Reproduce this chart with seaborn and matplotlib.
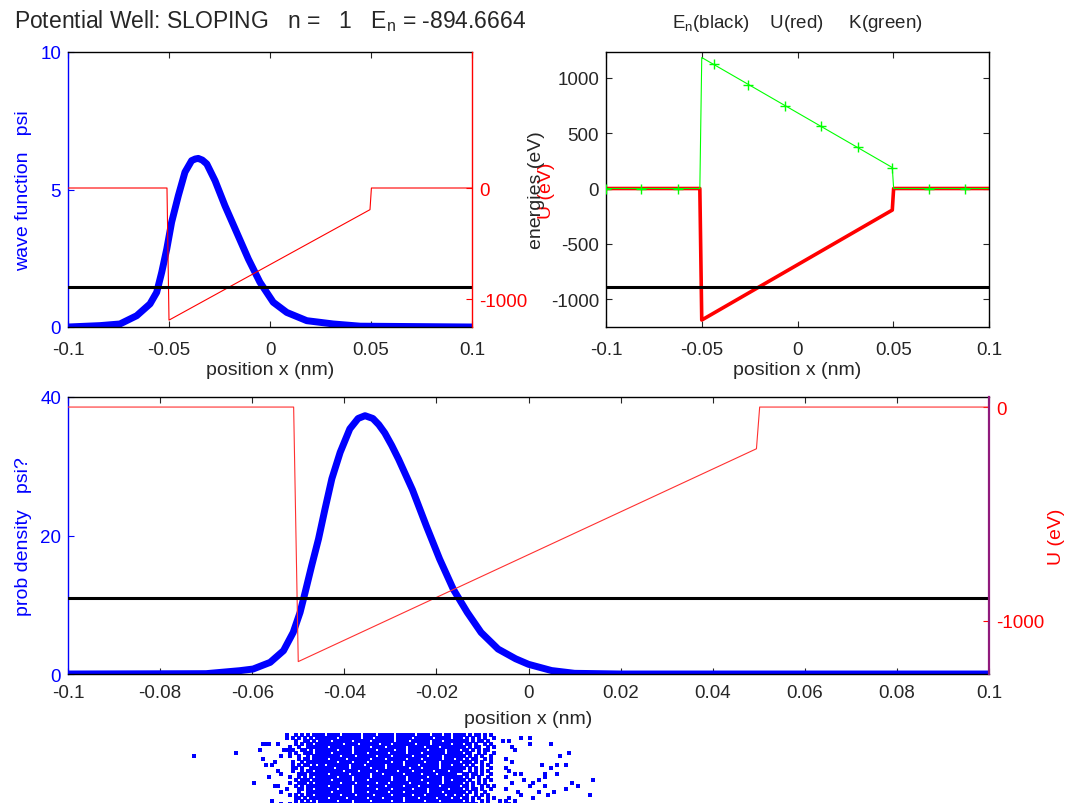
import matplotlib
matplotlib.use("Agg")
import matplotlib.pyplot as plt
import seaborn as sns

# Estilo tipo MATLAB
sns.set_style("white")
plt.rcParams["font.family"] = ["Liberation Sans", "DejaVu Sans"]
plt.rcParams["xtick.direction"] = "in"
plt.rcParams["ytick.direction"] = "in"
plt.rcParams["axes.unicode_minus"] = False

# ---- dados ----
E_N = -894.6664
N_STATE = 1

# funcao de onda psi (painel superior esquerdo)
psi_x = [-0.1, -0.0842, -0.0743, -0.066, -0.0594, -0.0561, -0.0536, -0.0511, -0.0487,
         -0.0454, -0.0421, -0.0388, -0.037, -0.0355, -0.0335, -0.0313, -0.0272,
         -0.0223, -0.0165, -0.0107, -0.005, 0.0016, 0.0083, 0.0182, 0.0313, 0.0446, 0.1]
psi = [0.0, 0.05, 0.11, 0.41, 0.84, 1.26, 1.99, 2.84, 3.81,
       4.77, 5.63, 6.05, 6.11, 6.13, 6.07, 5.93, 5.32,
       4.41, 3.44, 2.47, 1.63, 0.90, 0.53, 0.23, 0.11, 0.03, 0.0]

# densidade de probabilidade (painel inferior)
prob_x = [-0.1, -0.07, -0.0627, -0.0598, -0.0561, -0.0532, -0.0511, -0.0496, -0.0485,
          -0.0471, -0.0456, -0.0442, -0.0427, -0.0409, -0.0388, -0.037, -0.0355,
          -0.0338, -0.0325, -0.0312, -0.0297, -0.0282, -0.0252, -0.0222, -0.0193,
          -0.0163, -0.0133, -0.0103, -0.0066, -0.0028, 0.0, 0.005, 0.01, 0.02, 0.1]
prob = [0.0, 0.05, 0.48, 0.72, 1.68, 3.37, 6.0, 8.9, 11.8,
        15.6, 19.5, 23.8, 28.2, 32.0, 35.4, 36.9, 37.3,
        36.9, 36.0, 34.8, 33.0, 31.0, 26.6, 21.4, 16.6,
        12.2, 8.9, 6.0, 3.6, 2.2, 1.4, 0.5, 0.1, 0.0, 0.0]

# potencial U e energia cinetica K
u_x = [-0.1, -0.051, -0.05, 0.0495, 0.0502, 0.1]
u = [0, 0, -1190, -195, 0, 0]
k_x = [-0.1, -0.051, -0.05, 0.0495, 0.0502, 0.1]
k = [0, 0, 1185, 190, 0, 0]
k_mark_x = [-0.1, -0.0815, -0.0624, -0.0434, -0.0259, -0.0063, 0.0125, 0.0314,
            0.0494, 0.0686, 0.0876]
k_mark = [0, 0, 0, 1123, 934, 747, 566, 376, 190, 0, 0]

x_ticks_top = [-0.1, -0.05, 0, 0.05, 0.1]
x_labels_top = ["-0.1", "-0.05", "0", "0.05", "0.1"]
x_ticks_bot = [-0.1, -0.08, -0.06, -0.04, -0.02, 0, 0.02, 0.04, 0.06, 0.08, 0.1]
x_labels_bot = ["-0.1", "-0.08", "-0.06", "-0.04", "-0.02", "0",
                "0.02", "0.04", "0.06", "0.08", "0.1"]

# nuvem de pontos (amostragem da densidade), grade de celulas de 3 px
DOT_X0 = -0.0732
DOT_DX = 0.000651
SEG_W = [21, 23, 46, 15, 32]
DOT_ROWS = [
    "|...........#..#.#.#.###|#.####.######.####.#####.######.####.###.##.##|##.#.##.#.#....|",
    "|...........#.#.#.#.#.##|#####.#######.###.######.#####.######.#####.##|#.#.#.#.#..#...|.....#..#",
    "|..............#..##.#.#|###.######.#####.#######.####.######.###.#####|###.#.##.#....#|.#",
    "|...###..#.....#.#.##.##|#######.####.######.###.#######.####.######.##|#.##.#..#.#....|........#......#",
    "|............#..#..#####|##.#######.#####.####.######.#####.####.######|##.#.##..#.#...|..#",
    "|..#.......####..##.#.##|#####.####.#######.#####.###.######.#####.####|.##.#.#.##.....|...#",
    "...............#|............#.#..###.##|###.######.####.######.#####.####.#######.####|#.##..#.#..#...|.....................#",
    ".#|.........#..#..#..#.###|######.####.######.####.######.####.####.#####|##.#.#.#..#....|..................#",
    "|...#...........#.##.###|##.#####.#######.####.######.####.######.###.#|#.#.##..#.#....|#",
    "|.......#.....#..#.#####|#####.####.####.#######.###.######.####.######|.###.#.#..#....|..#",
    "|....#.#......#.#.##.#.#|#.#######.####.######.#####.####.######.###.##|#.#.#..#.#.....|............#....#..#",
    "|.............##.#..####|####.####.######.####.#######.###.#####.######|##.#.#.#..#....|#..............#",
    "|........#....#..#.##.##|#######.####.#####.######.####.######.####.###|#..#.#.#.#.....|.#",
    "|.........#.....###.####|##.######.######.###.######.#####.####.######.|.##.##.#..#....|...#.#.......#...#",
    "|.....#......#..#.#.#.##|#####.####.#####.######.####.######.####.#####|#.#.#.#..#.....|#............#",
    "|..............#.###.###|###.######.####.#######.####.####.######.##.##|##.#..#.#.#....|......#....#.................#",
    "|#...........#..###.#.##|######.####.######.###.######.#####.####.#####|#.#.#.#.#......|..#......#............#",
    "|.......##.....#.#.#####|##.#######.####.#####.#####.####.######.######|.##.#..#.#.#...|........#....#..........#",
    "|...........#...##.##.##|#####.####.#######.####.######.####.######.###|#.#.##.#..#....|#...................#",
    "|.........#.....#..#####|###.######.####.######.####.#######.####.#####|##.#.#..#......|....#......#....#",
    "|............#.#.#.##.##|######.####.#####.#####.######.###.######.##.#|#.#..#.#.#.....|.....#........#.............#",
    "|..............##.#.####|##.#####.######.####.######.####.#####.####.##|.##.#.#..#.#...|.#.......#",
    "|......#.......#.#.#.#.#|#####.####.#####.######.###.######.####.######|#.#.#..#.#...#.|#..#",
    "|......#..#..#.#..#.##.#|###.######.####.#####.######.####.######.###.#|##.#.#.#.......|.#.#",
]

BLUE = "#0000ff"
RED = "#ff0000"
GREEN = "#00ff00"
W, H = 1069, 804
TICK_FS = 13.5
LABEL_FS = 14

fig = plt.figure(figsize=(W / 100, H / 100), dpi=100)


def estilo(ax, xpad=5):
    ax.tick_params(axis="both", direction="in", length=4, width=0.8,
                   labelsize=TICK_FS, pad=5)
    ax.tick_params(axis="x", pad=xpad)
    for s in ax.spines.values():
        s.set_linewidth(1.0)
        s.set_color("black")


# ---------- painel superior esquerdo ----------
ax1 = fig.add_axes([68 / W, 1 - 328 / H, 404 / W, 275 / H])
estilo(ax1, xpad=10)
sns.lineplot(x=psi_x, y=psi, ax=ax1, color=BLUE, lw=5, sort=False,
             estimator=None, solid_capstyle="round")
ax1.set_xlim(-0.1, 0.1)
ax1.set_ylim(0, 10)
ax1.set_xticks(x_ticks_top, x_labels_top)
ax1.set_yticks([0, 5, 10], ["0", "5", "10"])
ax1.tick_params(axis="x", top=True, bottom=True)
ax1.tick_params(axis="y", colors=BLUE, left=True)
ax1.spines["left"].set_color(BLUE)
ax1.spines["right"].set_visible(False)
ax1.set_xlabel("position x (nm)", fontsize=LABEL_FS, labelpad=2)
ax1.set_ylabel("wave function   psi", fontsize=LABEL_FS, color=BLUE, labelpad=6)
ax1.set_title("Potential Well: SLOPING   n =   %d   $\\mathregular{E_n}$ = %.4f" % (N_STATE, E_N),
              fontsize=16.5, pad=18)

ax1r = ax1.twinx()
estilo(ax1r)
sns.lineplot(x=u_x, y=u, ax=ax1r, color=RED, lw=0.8, sort=False, estimator=None)
ax1r.axhline(E_N, color="black", lw=2.2)
ax1r.set_ylim(-1252, 1225)
ax1r.set_yticks([-1000, 0], ["-1000", "0"])
ax1r.tick_params(axis="y", colors=RED, right=True)
ax1r.spines["right"].set_color(RED)
for s in ["left", "top", "bottom"]:
    ax1r.spines[s].set_visible(False)
ax1r.set_ylabel("U (eV)", fontsize=LABEL_FS, color=RED, labelpad=8)

# ---------- painel superior direito ----------
ax2 = fig.add_axes([606 / W, 1 - 328 / H, 383 / W, 275 / H])
estilo(ax2, xpad=10)
sns.lineplot(x=u_x, y=u, ax=ax2, color=RED, lw=2.6, sort=False, estimator=None)
sns.lineplot(x=k_x, y=k, ax=ax2, color=GREEN, lw=0.8, sort=False, estimator=None)
sns.scatterplot(x=k_mark_x, y=k_mark, ax=ax2, color=GREEN, marker="+", s=55,
                linewidth=1.0, zorder=4)
ax2.axhline(E_N, color="black", lw=2.2)
ax2.set_xlim(-0.1, 0.1)
ax2.set_ylim(-1253, 1235)
ax2.set_xticks(x_ticks_top, x_labels_top)
ax2.set_yticks([-1000, -500, 0, 500, 1000])
ax2.tick_params(axis="x", top=True, bottom=True)
ax2.tick_params(axis="y", left=True, right=True)
ax2.set_xlabel("position x (nm)", fontsize=LABEL_FS, labelpad=2)
ax2.set_ylabel("energies (eV)", fontsize=LABEL_FS, labelpad=4)
ax2.set_title("$\\mathregular{E_n}$(black)    U(red)     K(green)", fontsize=13.5, pad=18)

# ---------- painel inferior ----------
ax3 = fig.add_axes([68 / W, 1 - 675 / H, 921 / W, 277 / H])
estilo(ax3, xpad=7)
sns.lineplot(x=prob_x, y=prob, ax=ax3, color=BLUE, lw=5, sort=False,
             estimator=None, solid_capstyle="round")
ax3.set_xlim(-0.1, 0.1)
ax3.set_ylim(0, 40)
ax3.set_xticks(x_ticks_bot, x_labels_bot)
ax3.set_yticks([0, 20, 40], ["0", "20", "40"])
ax3.tick_params(axis="x", top=True, bottom=True)
ax3.tick_params(axis="y", colors=BLUE, left=True)
ax3.spines["left"].set_color(BLUE)
ax3.spines["right"].set_visible(False)
ax3.set_xlabel("position x (nm)", fontsize=LABEL_FS, labelpad=7)
ax3.set_ylabel("prob density   psi?", fontsize=LABEL_FS, color=BLUE, labelpad=6)

ax3r = ax3.twinx()
estilo(ax3r)
sns.lineplot(x=u_x, y=u, ax=ax3r, color="#ff3030", lw=0.8, sort=False, estimator=None)
ax3r.axhline(E_N, color="black", lw=2.2)
ax3r.set_ylim(-1248, 47)
ax3r.set_yticks([-1000, 0], ["-1000", "0"])
ax3r.tick_params(axis="y", colors=RED, right=True)
ax3r.spines["right"].set_color("#901a7c")
ax3r.spines["right"].set_linewidth(1.6)
for s in ["left", "top", "bottom"]:
    ax3r.spines[s].set_visible(False)
ax3r.set_ylabel("U (eV)", fontsize=LABEL_FS, color=RED, labelpad=3)

# ---------- nuvem de pontos ----------
dot_x, dot_y = [], []
for r, row in enumerate(DOT_ROWS):
    parts = row.split("|")
    linha = "".join(p.ljust(w, ".")[:w] for p, w in zip(parts, SEG_W))
    for c, ch in enumerate(linha):
        if ch == "#":
            dot_x.append(DOT_X0 + c * DOT_DX)
            dot_y.append(r + 0.5)

ax4 = fig.add_axes([68 / W, -2 / H, 921 / W, 72 / H])
sns.scatterplot(x=dot_x, y=dot_y, ax=ax4, color=BLUE, marker="s", s=7, linewidth=0)
ax4.set_xlim(-0.1, 0.1)
ax4.set_ylim(24, 0)
ax4.axis("off")

fig.savefig("out.png", dpi=100)
